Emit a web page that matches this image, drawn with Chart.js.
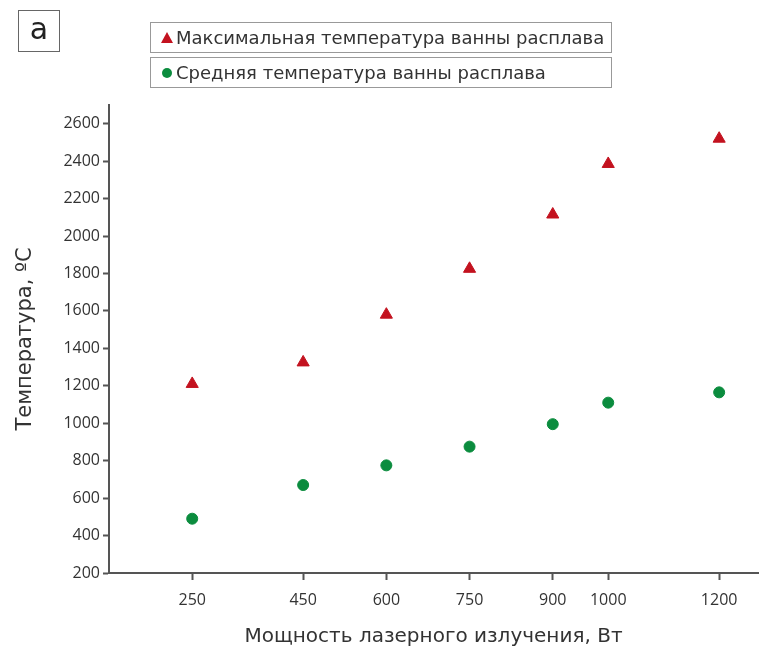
<!DOCTYPE html>
<html>
<head>
<meta charset="utf-8">
<script src="https://cdn.jsdelivr.net/npm/chart.js@4/dist/chart.umd.min.js"></script>
<style>
    body { margin: 0; background: #fff; font-family: "DejaVu Sans", sans-serif; }
    #wrap { position: relative; width: 766px; height: 653px; }
    #panel { position: absolute; left: 18px; top: 10px; width: 40px; height: 40px;
             border: 1px solid #666; font-size: 30px; line-height: 36px; text-align: center; color: #222; }
    .leg { position: absolute; left: 150px; width: 462px; height: 31px; border: 1px solid #999;
           font-size: 18px; line-height: 30px; color: #333; box-sizing: border-box; padding-left: 25px; }
    .mark { position: absolute; left: 10px; }
</style>
</head>
<body>
<div id="wrap">
    <canvas id="chart" width="766" height="653"></canvas>
    <div id="panel">a</div>
    <div id="legend"></div>
</div>
<script>
let power = [250, 450, 600, 750, 900, 1000, 1200];
let maxTemp = [1210, 1325, 1580, 1825, 2115, 2385, 2520];
let avgTemp = [490, 670, 775, 875, 995, 1110, 1165];

let seriesNames = ["Максимальная температура ванны расплава", "Средняя температура ванны расплава"];
let seriesColors = ["#c3121f", "#0b8c3e"];

function legend() {
    let box = document.getElementById("legend");
    let tops = [22, 57];
    seriesNames.forEach((name, i) => {
        let d = document.createElement("div");
        d.className = "leg";
        d.style.top = tops[i] + "px";
        let m = document.createElement("span");
        m.className = "mark";
        if (i === 0) {
            m.style.top = "9px";
            m.style.width = "0";
            m.style.height = "0";
            m.style.borderLeft = "6px solid transparent";
            m.style.borderRight = "6px solid transparent";
            m.style.borderBottom = "11px solid " + seriesColors[0];
        } else {
            m.style.top = "10px";
            m.style.left = "11px";
            m.style.width = "10px";
            m.style.height = "10px";
            m.style.borderRadius = "50%";
            m.style.background = seriesColors[1];
        }
        d.appendChild(m);
        d.appendChild(document.createTextNode(name));
        box.appendChild(d);
    });
}
legend();

new Chart(document.getElementById("chart"), {
    type: "scatter",
    data: {
        datasets: [{
            label: seriesNames[0],
            data: power.map((p, i) => ({ x: p, y: maxTemp[i] })),
            pointStyle: "triangle",
            pointRadius: 7,
            backgroundColor: seriesColors[0],
            borderColor: seriesColors[0]
        }, {
            label: seriesNames[1],
            data: power.map((p, i) => ({ x: p, y: avgTemp[i] })),
            pointStyle: "circle",
            pointRadius: 5.5,
            backgroundColor: seriesColors[1],
            borderColor: seriesColors[1]
        }]
    },
    options: {
        responsive: false,
        animation: false,
        layout: { padding: { top: 105, right: 6, left: 0, bottom: 0 } },
        plugins: { legend: { display: false }, tooltip: { enabled: false } },
        scales: {
            x: {
                type: "linear",
                min: 100,
                max: 1270,
                afterBuildTicks: scale => { scale.ticks = power.map(v => ({ value: v })); },
                afterFit: scale => { scale.height = 80; },
                border: { color: "#555", width: 2 },
                grid: { drawOnChartArea: false, tickLength: 7, tickColor: "#555", tickWidth: 2 },
                ticks: { color: "#333", font: { family: "Open Sans", size: 16 }, padding: 11,
                         callback: v => String(v) },
                title: { display: true, text: "Мощность лазерного излучения, Вт", color: "#333",
                         font: { family: "DejaVu Sans", size: 20 }, padding: { top: 8 } }
            },
            y: {
                min: 200,
                max: 2700,
                afterFit: scale => { scale.width = 109; },
                border: { color: "#555", width: 2 },
                grid: { drawOnChartArea: false, tickLength: 6, tickColor: "#555", tickWidth: 2 },
                ticks: {
                    stepSize: 100,
                    color: "#333",
                    font: { family: "Open Sans", size: 16 },
                    padding: 3,
                    callback: v => (v % 200 === 0 && v <= 2600) ? String(v) : ""
                },
                title: { display: true, text: "Температура, ºC", color: "#333",
                         font: { family: "DejaVu Sans", size: 21 }, padding: { top: 13, bottom: 0 } }
            }
        }
    }
});
</script>
</body>
</html>
